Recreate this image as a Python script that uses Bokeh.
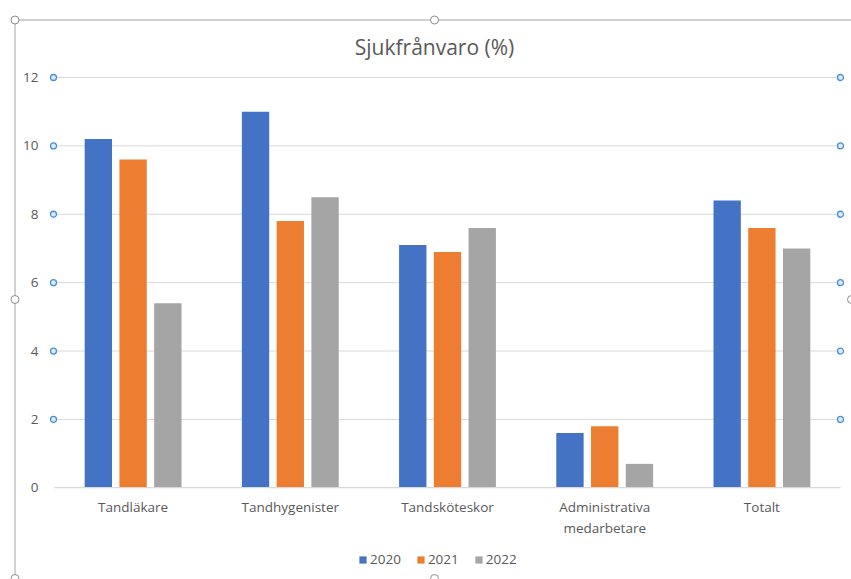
from bokeh.plotting import figure
from bokeh.models import (ColumnDataSource, Range1d, FixedTicker, Legend, LegendItem,
                          Label, BoxAnnotation)
from bokeh.transform import dodge
from bokeh.embed import file_html
from bokeh.resources import INLINE

# Sick leave by staff group, per year (%)
categories = ["Tandläkare", "Tandhygenister", "Tandsköteskor",
              "Administrativa\nmedarbetare", "Totalt"]
years = ["2020", "2021", "2022"]
values_2020 = [10.2, 11.0, 7.1, 1.6, 8.4]
values_2021 = [9.6, 7.8, 6.9, 1.8, 7.6]
values_2022 = [5.4, 8.5, 7.6, 0.7, 7.0]
y_ticks = [0, 2, 4, 6, 8, 10, 12]

title_text = "Sjukfrånvaro (%)"
colors = ["#4472C4", "#ED7D31", "#A5A5A5"]
text_color = "#595959"
grid_color = "#D9D9D9"
edge_color = "#A6A6A6"
font = "Open Sans"

W, H = 851, 579
# plot area inside the canvas (pixels): left, right, top (y=12), bottom (y=0)
PA_L, PA_R, PA_T, PA_B = 54.0, 840.0, 77.0, 487.3

n = len(categories)
x_centers = [i + 0.5 for i in range(n)]
src = ColumnDataSource(dict(x=x_centers, v2020=values_2020,
                            v2021=values_2021, v2022=values_2022))

# ranges chosen so the frame covers the whole canvas and the plot area sits inside it
px_x = (PA_R - PA_L) / n
px_y = (PA_B - PA_T) / y_ticks[-1]
x_range = Range1d(-PA_L / px_x, n + (W - PA_R) / px_x)
y_range = Range1d(-(H - PA_B) / px_y, y_ticks[-1] + PA_T / px_y)

p = figure(x_range=x_range, y_range=y_range, width=W, height=H,
           output_backend="svg", toolbar_location=None,
           min_border=0, min_border_left=0, min_border_right=0,
           min_border_top=0, min_border_bottom=0)
p.outline_line_color = None
p.background_fill_color = "white"
p.border_fill_color = "white"
p.xgrid.grid_line_color = None
p.ygrid.grid_line_color = None

# horizontal gridlines across the plot area
p.segment(x0=[0] * len(y_ticks), x1=[n] * len(y_ticks), y0=y_ticks, y1=y_ticks,
          line_color=grid_color, line_width=1)

# grouped bars
offsets = [-0.221, 0.0, 0.221]
fields = ["v2020", "v2021", "v2022"]
renderers = []
for field, off, col in zip(fields, offsets, colors):
    r = p.vbar(x=dodge("x", off), top=field, width=0.174,
               source=src, fill_color=col, line_color=None)
    renderers.append(r)

# value axis, pinned to the left edge of the plot area
p.yaxis.fixed_location = 0
p.yaxis.ticker = FixedTicker(ticks=y_ticks)
p.yaxis.axis_line_color = None
p.yaxis.major_tick_line_color = None
p.yaxis.minor_tick_line_color = None
p.yaxis.major_label_standoff = 10
p.yaxis.major_label_text_font = font
p.yaxis.major_label_text_font_size = "13.5px"
p.yaxis.major_label_text_color = text_color

# category axis, pinned to y = 0
p.xaxis.fixed_location = 0
p.xaxis.bounds = (0, n)
p.xaxis.ticker = FixedTicker(ticks=x_centers)
p.xaxis.major_label_overrides = {x: c for x, c in zip(x_centers, categories)}
p.xaxis.axis_line_color = grid_color
p.xaxis.major_tick_line_color = None
p.xaxis.minor_tick_line_color = None
p.xaxis.major_label_standoff = 4
p.xaxis.major_label_text_font = font
p.xaxis.major_label_text_font_size = "13.5px"
p.xaxis.major_label_text_color = text_color

# title
p.add_layout(Label(x=434, y=46, x_units="canvas", y_units="canvas", text=title_text,
                   text_align="center", text_baseline="alphabetic",
                   text_font=font, text_font_size="21px", text_color=text_color))

# legend below the category labels
legend = Legend(items=[LegendItem(label=y, renderers=[r]) for y, r in zip(years, renderers)],
                orientation="horizontal", location=(358, 11),
                glyph_width=9, glyph_height=9, label_standoff=3, spacing=15,
                padding=0, margin=0, label_height=18,
                border_line_color=None, background_fill_alpha=0,
                label_text_font=font, label_text_font_size="13.5px",
                label_text_color=text_color)
p.add_layout(legend, "center")


def canvas_box(left, right, top, bottom, **kw):
    return BoxAnnotation(left=left, right=right, top=top, bottom=bottom,
                         left_units="canvas", right_units="canvas",
                         top_units="canvas", bottom_units="canvas", **kw)


# chart border with its sizing handles
p.add_layout(canvas_box(14, W, 19, 20, fill_color=edge_color, fill_alpha=1, line_color=None))
p.add_layout(canvas_box(14, 15, 19, H, fill_color=edge_color, fill_alpha=1, line_color=None))
for cx, cy in [(14.5, 19.5), (434, 19.5), (14.5, 299), (851, 299), (14.5, 578), (434, 578)]:
    p.add_layout(canvas_box(cx - 4, cx + 4, cy - 4, cy + 4, border_radius=4,
                            fill_color="white", fill_alpha=1,
                            line_color="#8C8C8C", line_alpha=1, line_width=1))

# handles at both ends of each gridline
for t in y_ticks[1:]:
    for cx in (PA_L - 1, PA_R):
        p.add_layout(BoxAnnotation(left=cx - 3, right=cx + 3,
                                   top=t + 3 / px_y, bottom=t - 3 / px_y,
                                   left_units="canvas", right_units="canvas",
                                   border_radius=3, fill_color="#DEEBF7", fill_alpha=1,
                                   line_color="#4A90D9", line_alpha=1, line_width=1.3))

open("out.html", "w").write(file_html(p, INLINE))
